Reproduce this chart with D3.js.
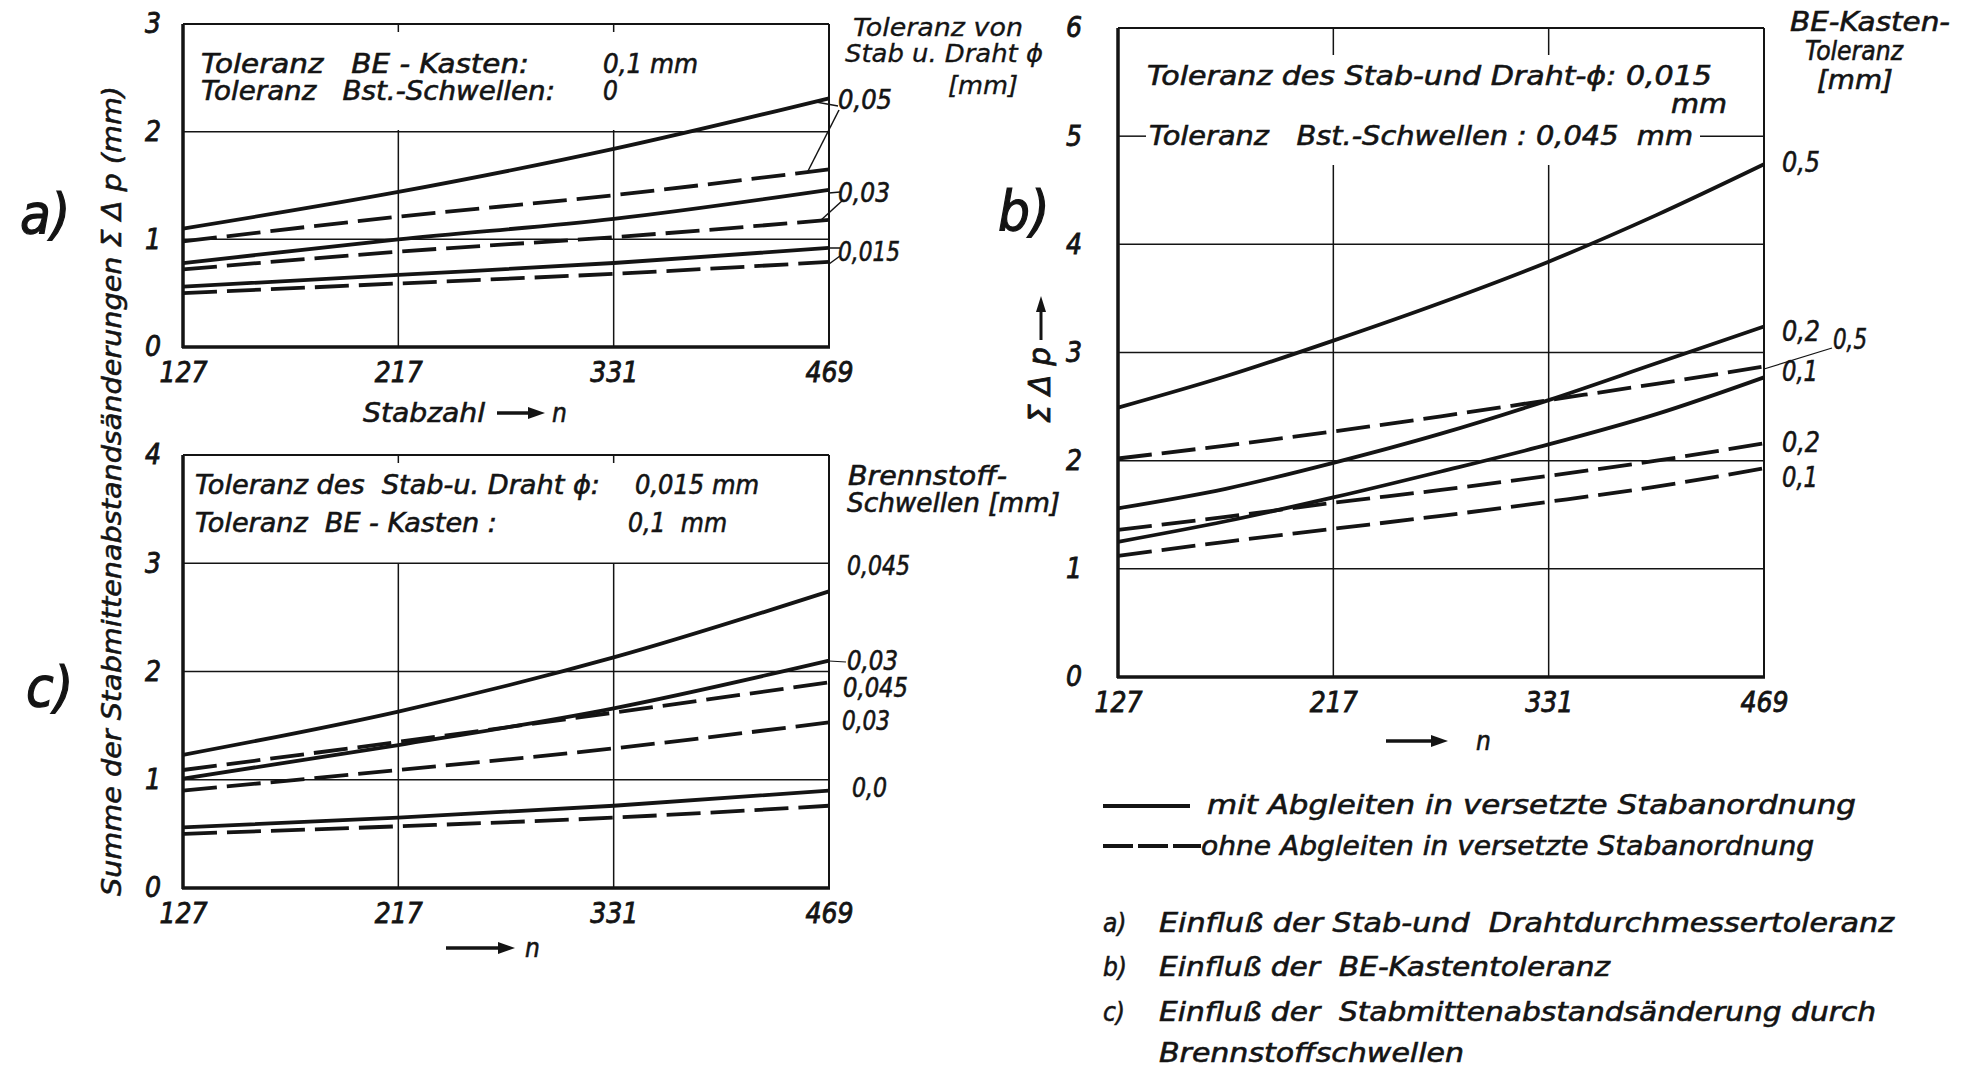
<!DOCTYPE html>
<html><head><meta charset="utf-8">
<script src="https://cdn.jsdelivr.net/npm/d3@7"></script>
<style>html,body{margin:0;padding:0;background:#fff;} svg{display:block;} text{white-space:pre;}</style>
</head><body>
<svg id="chart" width="1979" height="1071"></svg>
<script>
// ---------------- DATA ----------------
const stabzahl = [127, 217, 331, 469];            // x tick labels (equally spaced on the chart)
const posAC = [0, 1, 2, 3];                       // reading positions (index of tick) for panels a and c
const posB = [0, 0.5, 1, 1.5, 2, 2.5, 3];         // reading positions for panel b

// a) Einfluß der Stab- und Drahtdurchmessertoleranz  (values in mm)
const aTicksY = [0, 1, 2, 3];
const a_mit_005  = [1.10, 1.44, 1.84, 2.31];
const a_ohne_005 = [0.98, 1.21, 1.41, 1.65];
const a_mit_003  = [0.78, 1.00, 1.19, 1.46];
const a_ohne_003 = [0.72, 0.885, 1.02, 1.18];
const a_mit_0015 = [0.56, 0.67, 0.78, 0.92];
const a_ohne_0015= [0.50, 0.59, 0.68, 0.79];

// b) Einfluß der BE-Kastentoleranz
const bTicksY = [0, 1, 2, 3, 4, 5, 6];
const b_mit_05  = [2.49, 2.78, 3.11, 3.46, 3.84, 4.27, 4.74];
const b_mit_02  = [1.56, 1.74, 1.98, 2.25, 2.56, 2.90, 3.24];
const b_mit_01  = [1.25, 1.44, 1.66, 1.90, 2.15, 2.43, 2.77];
const b_ohne_05 = [2.02, 2.14, 2.27, 2.41, 2.56, 2.71, 2.87];
const b_ohne_02 = [1.36, 1.48, 1.61, 1.73, 1.86, 2.00, 2.16];
const b_ohne_01 = [1.12, 1.25, 1.37, 1.49, 1.62, 1.76, 1.93];

// c) Einfluß der Stabmittenabstandsänderung durch Brennstoffschwellen
const cTicksY = [0, 1, 2, 3, 4];
const c_mit_0045  = [1.23, 1.63, 2.13, 2.74];
const c_mit_003   = [1.01, 1.32, 1.66, 2.10];
const c_ohne_0045 = [1.09, 1.35, 1.62, 1.90];
const c_ohne_003  = [0.90, 1.09, 1.29, 1.53];
const c_mit_00    = [0.56, 0.65, 0.76, 0.90];
const c_ohne_00   = [0.50, 0.57, 0.65, 0.76];

// ---------------- DRAWING ----------------
const svg = d3.select('#chart');
svg.append('rect').attr('width', 1979).attr('height', 1071).attr('fill', '#fff');
const FONT = '"DejaVu Sans Condensed","DejaVu Sans",sans-serif';
const INK = '#141414';
const DASH = '34,10';

function txt(x, y, s, o = {}) {
  const t = svg.append('text').attr('x', x).attr('y', y).text(s)
    .attr('xml:space', 'preserve')
    .attr('font-family', FONT).attr('font-style', 'italic')
    .attr('font-size', o.size || 26).attr('fill', INK)
    .attr('stroke', INK).attr('stroke-width', o.sw == null ? 0.55 : o.sw)
    .attr('text-anchor', o.anchor || 'start');
  if (o.len) t.attr('textLength', o.len).attr('lengthAdjust', 'spacingAndGlyphs');
  if (o.rot) t.attr('transform', `rotate(${o.rot},${x},${y})`);
  return t;
}
function seg(x1, y1, x2, y2, w = 1.5) {
  svg.append('line').attr('x1', x1).attr('y1', y1).attr('x2', x2).attr('y2', y2)
    .attr('stroke', INK).attr('stroke-width', w);
}
function arrow(x1, y1, x2, y2, w = 3.5, hl = 17, hw = 6) {
  const dx = x2 - x1, dy = y2 - y1, L = Math.hypot(dx, dy), ux = dx / L, uy = dy / L;
  const bx = x2 - ux * hl, by = y2 - uy * hl;
  seg(x1, y1, bx, by, w);
  svg.append('polygon').attr('fill', INK)
    .attr('points', `${x2},${y2} ${bx - uy * hw},${by + ux * hw} ${bx + uy * hw},${by - ux * hw}`);
}

function panel(p) {
  const x = d3.scaleLinear().domain([0, 3]).range([p.x0, p.x1]);
  const y = d3.scaleLinear().domain([0, p.ymax]).range([p.yb, p.yt]);
  const g = svg.append('g');
  // horizontal grid
  p.hGrid.forEach(v => g.append('line').attr('x1', p.x0).attr('x2', p.x1)
    .attr('y1', y(v)).attr('y2', y(v)).attr('stroke', INK).attr('stroke-width', 1.5));
  // vertical grid segments
  [1, 2].forEach(i => p.vSeg.forEach(([a, b]) => g.append('line')
    .attr('x1', x(i)).attr('x2', x(i)).attr('y1', a).attr('y2', b)
    .attr('stroke', INK).attr('stroke-width', 1.5)));
  // frame
  g.append('line').attr('x1', p.x0).attr('x2', p.x1).attr('y1', p.yt).attr('y2', p.yt).attr('stroke', INK).attr('stroke-width', 2);
  g.append('line').attr('x1', p.x1).attr('x2', p.x1).attr('y1', p.yt).attr('y2', p.yb).attr('stroke', INK).attr('stroke-width', 2);
  g.append('line').attr('x1', p.x0).attr('x2', p.x0).attr('y1', p.yt).attr('y2', p.yb + 1).attr('stroke', INK).attr('stroke-width', 3.5);
  g.append('line').attr('x1', p.x0 - 1).attr('x2', p.x1 + 1).attr('y1', p.yb).attr('y2', p.yb).attr('stroke', INK).attr('stroke-width', 3.5);
  // axes (labels only)
  const ax = g.append('g').attr('transform', `translate(${p.x0 - 2},0)`)
    .call(d3.axisLeft(y).tickValues(p.ticksY).tickFormat(d3.format('d')).tickSize(0).tickPadding(p.yPad));
  const bx = g.append('g').attr('transform', `translate(0,${p.yb})`)
    .call(d3.axisBottom(x).tickValues(posAC).tickFormat(i => stabzahl[i]).tickSize(0).tickPadding(15));
  [ax, bx].forEach(a => {
    a.select('.domain').remove();
    a.selectAll('text').attr('font-family', FONT).attr('font-style', 'italic')
      .attr('font-size', 28).attr('fill', INK).attr('stroke', INK).attr('stroke-width', 0.8);
  });
  // curves
  const line = d3.line().x(d => x(d[0])).y(d => y(d[1])).curve(d3.curveMonotoneX);
  p.series.forEach(s => {
    g.append('path').attr('d', line(s.pos.map((q, k) => [q, s.vals[k]])))
      .attr('fill', 'none').attr('stroke', INK).attr('stroke-width', 3.8)
      .attr('stroke-linecap', 'butt')
      .attr('stroke-dasharray', s.dashed ? DASH : null);
  });
  return { x, y };
}

// ---- panel a ----
const A = panel({
  x0: 183, x1: 829, yb: 347, yt: 24, ymax: 3, ticksY: aTicksY, yPad: 20,
  hGrid: [1, 2], vSeg: [[24, 32], [130, 347]],
  series: [
    { pos: posAC, vals: a_mit_005, dashed: false }, { pos: posAC, vals: a_ohne_005, dashed: true },
    { pos: posAC, vals: a_mit_003, dashed: false }, { pos: posAC, vals: a_ohne_003, dashed: true },
    { pos: posAC, vals: a_mit_0015, dashed: false }, { pos: posAC, vals: a_ohne_0015, dashed: true }
  ]
});
txt(201, 73, 'Toleranz   BE - Kasten:', { len: 328 });
txt(603, 73, '0,1 mm', { len: 95 });
txt(201, 100, 'Toleranz   Bst.-Schwellen:', { len: 354 });
txt(603, 100, '0');
txt(853, 36, 'Toleranz von', { len: 170, size: 25, sw: 0.3 });
txt(845, 62, 'Stab u. Draht ϕ', { len: 198, size: 25, sw: 0.3 });
txt(948, 94, '[mm]', { len: 70, size: 25, sw: 0.3 });
txt(838, 109, '0,05', { len: 54 });
txt(838, 202, '0,03', { len: 52 });
txt(838, 261, '0,015', { len: 62 });
// leader lines a
seg(816, 102, 838, 106); seg(839, 110, 807, 173);
seg(829, 193, 840, 192); seg(843, 200, 820, 221);
seg(829, 248, 840, 248); seg(840, 256, 829, 264);
arrow(497, 413, 545, 413);
txt(363, 422, 'Stabzahl', { len: 122 });
txt(552, 422, 'n');

// ---- panel c ----
const C = panel({
  x0: 183, x1: 829, yb: 888, yt: 455, ymax: 4, ticksY: cTicksY, yPad: 20,
  hGrid: [1, 2, 3], vSeg: [[455, 463], [563, 888]],
  series: [
    { pos: posAC, vals: c_mit_0045, dashed: false }, { pos: posAC, vals: c_ohne_0045, dashed: true },
    { pos: posAC, vals: c_mit_003, dashed: false }, { pos: posAC, vals: c_ohne_003, dashed: true },
    { pos: posAC, vals: c_mit_00, dashed: false }, { pos: posAC, vals: c_ohne_00, dashed: true }
  ]
});
txt(195, 494, 'Toleranz des  Stab-u. Draht ϕ:', { len: 405 });
txt(635, 494, '0,015 mm', { len: 124 });
txt(195, 532, 'Toleranz  BE - Kasten :', { len: 302 });
txt(628, 532, '0,1  mm', { len: 99 });
txt(848, 485, 'Brennstoff-', { len: 159 });
txt(847, 512, 'Schwellen [mm]', { len: 213 });
txt(847, 575, '0,045', { len: 63 });
txt(847, 670, '0,03', { len: 51 });
txt(843, 697, '0,045', { len: 65 });
txt(842, 730, '0,03', { len: 48 });
txt(852, 797, '0,0', { len: 35 });
seg(829, 661, 846, 662, 1.2);
arrow(446, 948, 515, 948);
txt(525, 957, 'n');

// ---- panel b ----
const B = panel({
  x0: 1118, x1: 1764, yb: 677, yt: 28, ymax: 6, ticksY: bTicksY, yPad: 34,
  hGrid: [1, 2, 3, 4], vSeg: [[28, 55], [165, 677]],
  series: [
    { pos: posB, vals: b_mit_05, dashed: false }, { pos: posB, vals: b_ohne_05, dashed: true },
    { pos: posB, vals: b_mit_02, dashed: false }, { pos: posB, vals: b_ohne_02, dashed: true },
    { pos: posB, vals: b_mit_01, dashed: false }, { pos: posB, vals: b_ohne_01, dashed: true }
  ]
});
// y = 5 grid line, interrupted by the text
seg(1118, B.y(5), 1146, B.y(5));
seg(1700, B.y(5), 1764, B.y(5));
txt(1147, 85, 'Toleranz des Stab-und Draht-ϕ: 0,015', { len: 565 });
txt(1671, 113, 'mm', { len: 56 });
txt(1149, 145, 'Toleranz   Bst.-Schwellen : 0,045  mm', { len: 544 });
txt(1790, 31, 'BE-Kasten-', { len: 160, size: 27 });
txt(1805, 60, 'Toleranz', { len: 98 });
txt(1817, 89, '[mm]', { len: 76 });
txt(1782, 172, '0,5', { len: 38, size: 28 });
txt(1782, 341, '0,2', { len: 38, size: 28 });
txt(1782, 381, '0,1', { len: 36, size: 28 });
txt(1782, 452, '0,2', { len: 38, size: 28 });
txt(1782, 487, '0,1', { len: 36, size: 28 });
txt(1833, 349, '0,5', { len: 34, size: 28 });
seg(1764, 369, 1832, 348, 1.3);
// vertical axis title of b
txt(1050, 423, 'Σ Δ p', { rot: -90, len: 76, size: 30, sw: 0.8 });
arrow(1041, 340, 1041, 296, 3, 16, 5);
arrow(1386, 741, 1448, 741);
txt(1476, 750, 'n');

// big panel letters
txt(20, 233, 'a)', { size: 56, sw: 1.2 });
txt(998, 230, 'b)', { size: 56, sw: 1.2 });
txt(26, 706, 'c)', { size: 56, sw: 1.2 });

// main y axis title
txt(121, 896, 'Summe der Stabmittenabstandsänderungen Σ Δ p (mm)', { rot: -90, len: 810, size: 27 });

// legend
seg(1103, 806, 1190, 806, 3.8);
txt(1207, 814, 'mit Abgleiten in versetzte Stabanordnung', { len: 649 });
svg.append('line').attr('x1', 1103).attr('x2', 1201).attr('y1', 846).attr('y2', 846)
  .attr('stroke', INK).attr('stroke-width', 3.8).attr('stroke-dasharray', '30,5');
txt(1201, 855, 'ohne Abgleiten in versetzte Stabanordnung', { len: 613 });

txt(1103, 932, 'a)');
txt(1159, 932, 'Einfluß der Stab-und  Drahtdurchmessertoleranz', { len: 735 });
txt(1103, 976, 'b)');
txt(1159, 976, 'Einfluß der  BE-Kastentoleranz', { len: 451 });
txt(1103, 1021, 'c)');
txt(1159, 1021, 'Einfluß der  Stabmittenabstandsänderung durch', { len: 717 });
txt(1159, 1062, 'Brennstoffschwellen', { len: 305 });
</script>
</body></html>
